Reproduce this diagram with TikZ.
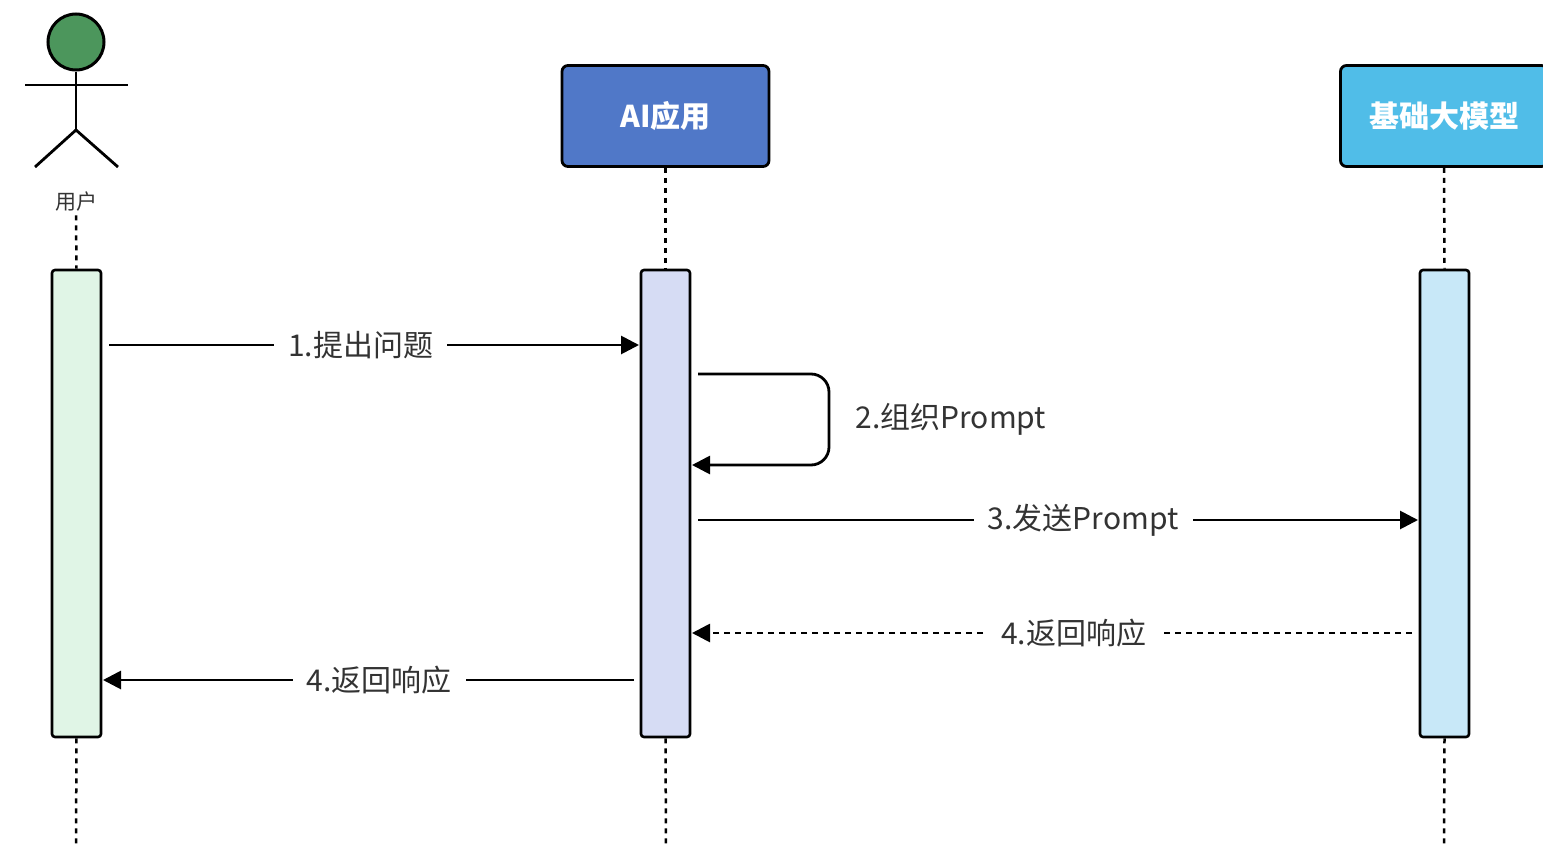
\documentclass[tikz,border=0pt]{standalone}
\usepackage{fontspec}
\setmainfont{Noto Sans CJK SC}
\usetikzlibrary{arrows.meta}
\definecolor{txt}{HTML}{333333}
\begin{document}
\begin{tikzpicture}[x=1pt,y=-1pt,
  ln/.style={line width=2.8pt,black},
  life/.style={line width=2.5pt,dash pattern=on 5pt off 5pt},
  act/.style={draw,line width=2.6pt,rounded corners=3pt},
  head/.style={draw,line width=2.8pt,rounded corners=6pt,text=white,font=\fontsize{30}{36}\selectfont\bfseries},
  arr/.style={ln,-{Triangle[length=18pt,width=18pt]}},
  lbl/.style={fill=white,text=txt,font=\fontsize{30}{36}\selectfont,inner xsep=14pt}]
\clip (0,0) rectangle (1543,862);
\useasboundingbox (0,0) rectangle (1543,862);
% actor
\node[circle,draw,line width=3pt,fill={rgb,255:red,76;green,150;blue,92},minimum size=56pt,inner sep=0] (hd) at (76,42) {};
\coordinate (hip) at (76,130);
\draw[ln] (hd.south) -- (hip);
\coordinate (la) at (25,85); \coordinate (ra) at (128,85);
\draw[ln] (la) -- (ra);
\coordinate (ll) at (35,167); \coordinate (rl) at (118,167);
\draw[ln] (ll) -- (hip) -- (rl);
\node[text=txt,font=\fontsize{21}{25}\selectfont] (ulab) at (76,202) {用户};
% heads
\node[head,fill={rgb,255:red,80;green,120;blue,200},minimum width=207pt,minimum height=101pt] (ai) at (665.5,116) {AI应用};
\node[head,fill={rgb,255:red,80;green,189;blue,232},minimum width=207pt,minimum height=101pt] (md) at (1444,116) {基础大模型};
% activations
\node[act,fill={rgb,255:red,224;green,245;blue,230},minimum width=49pt,minimum height=467pt,inner sep=0] (ua) at (76.5,503.5) {};
\node[act,fill={rgb,255:red,214;green,220;blue,244},minimum width=49pt,minimum height=467pt,inner sep=0] (aa) at (665.5,503.5) {};
\node[act,fill={rgb,255:red,200;green,232;blue,248},minimum width=49pt,minimum height=467pt,inner sep=0] (ma) at (1444.5,503.5) {};
% lifelines
\coordinate (ue) at (76,845); \coordinate (ae) at (666,848); \coordinate (me) at (1444,848);
\draw[life] (ulab.south) -- (ua.north);
\draw[life] (ua.south) -- (ue);
\draw[life] (ai.south) -- (aa.north);
\draw[life] (aa.south) -- (ae);
\draw[life] (md.south) -- (ma.north);
\draw[life] (ma.south) -- (me);
% messages
\coordinate (m1a) at (109,345); \coordinate (m1b) at (639,345);
\draw[arr] (m1a) -- node[lbl,pos=0.475]{1.提出问题} (m1b);
\coordinate (s1) at (698,374); \coordinate (s2) at (829,374); \coordinate (s3) at (829,465); \coordinate (s4) at (692,465);
\draw[arr,rounded corners=18pt] (s1) -- (s2) -- (s3) -- (s4);
\node[anchor=west,text=txt,font=\fontsize{30}{36}\selectfont] (l2) at (852,419) {2.组织Prompt};
\coordinate (m3a) at (698,520); \coordinate (m3b) at (1418,520);
\draw[arr] (m3a) -- node[lbl,pos=0.535]{3.发送Prompt} (m3b);
\coordinate (m4a) at (1412,633); \coordinate (m4b) at (692,633);
\draw[arr,dash pattern=on 6pt off 5pt] (m4a) -- node[lbl,pos=0.47]{4.返回响应} (m4b);
\coordinate (m5a) at (634,680); \coordinate (m5b) at (103,680);
\draw[arr] (m5a) -- node[lbl,pos=0.48]{4.返回响应} (m5b);
\end{tikzpicture}
\end{document}
